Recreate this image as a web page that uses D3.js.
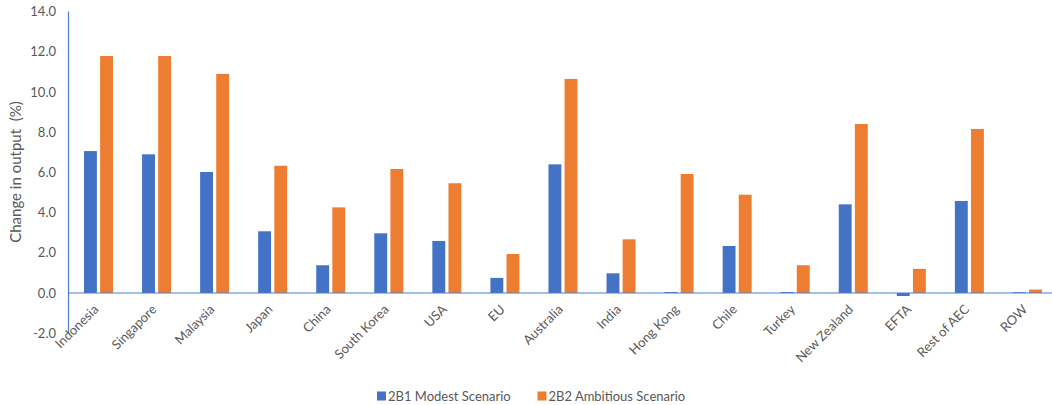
<!DOCTYPE html>
<html>
<head>
<meta charset="utf-8">
<script src="https://cdn.jsdelivr.net/npm/d3@7"></script>
<style>
  html, body { margin: 0; padding: 0; background: #fff; }
  svg { display: block; font-family: Lato, "Open Sans", sans-serif; }
</style>
</head>
<body>
<svg id="chart" width="1052" height="405"></svg>
<script>
// Regions on the category axis
const categories = ["Indonesia", "Singapore", "Malaysia", "Japan", "China", "South Korea", "USA", "EU",
  "Australia", "India", "Hong Kong", "Chile", "Turkey", "New Zealand", "EFTA", "Rest of AEC", "ROW"];

// Series names
const seriesNames = ["2B1 Modest Scenario", "2B2 Ambitious Scenario"];

// Change in output (%) per region
const modest    = [7.06, 6.90, 6.02, 3.07, 1.38, 2.97, 2.59, 0.75, 6.40, 0.98, 0.05, 2.34, 0.05, 4.41, -0.15, 4.58, 0.04];
const ambitious = [11.79, 11.79, 10.90, 6.33, 4.26, 6.17, 5.46, 1.94, 10.65, 2.67, 5.92, 4.89, 1.38, 8.41, 1.20, 8.16, 0.17];

// Value axis ticks
const yTicks = [-2, 0, 2, 4, 6, 8, 10, 12, 14];

const colors = ["#4472C4", "#ED7D31"];
const textColor = "#595959";
const axisColor = "#4F7FD0";

const svg = d3.select("#chart");

const x0 = d3.scaleBand().domain(categories).range([69.5, 1056.5]).padding(0);
const x1 = d3.scaleBand().domain(seriesNames).range([14.5, 43.5]).paddingInner(0.2);
const y = d3.scaleLinear().domain([-2, 14]).range([333.2, 11.6]);

// Value axis labels
svg.append("g")
  .selectAll("text")
  .data(yTicks)
  .join("text")
  .attr("x", 56)
  .attr("y", d => y(d))
  .attr("dy", "0.35em")
  .attr("text-anchor", "end")
  .attr("font-size", 13)
  .attr("fill", textColor)
  .text(d => d.toFixed(1));

// Axis title
svg.append("text")
  .attr("transform", "translate(21,172) rotate(-90)")
  .attr("text-anchor", "middle")
  .attr("font-size", 15)
  .attr("fill", textColor)
  .style("white-space", "pre")
  .text("Change in output  (%)");

// Bars
const rows = categories.map((c, i) => ({ c, vals: [modest[i], ambitious[i]] }));
const groups = svg.append("g")
  .selectAll("g")
  .data(rows)
  .join("g")
  .attr("transform", d => `translate(${x0(d.c)},0)`);

groups.selectAll("rect")
  .data(d => d.vals.map((v, k) => ({ s: seriesNames[k], v, k })))
  .join("rect")
  .attr("x", d => x1(d.s))
  .attr("width", x1.bandwidth())
  .attr("y", d => y(Math.max(0, d.v)))
  .attr("height", d => Math.abs(y(d.v) - y(0)))
  .attr("fill", d => colors[d.k]);

// Zero line and value axis line
svg.append("line")
  .attr("x1", 68.5).attr("x2", 1052)
  .attr("y1", y(0)).attr("y2", y(0))
  .attr("stroke", axisColor).attr("stroke-width", 1.2);

svg.append("line")
  .attr("x1", 68.5).attr("x2", 68.5)
  .attr("y1", y(14)).attr("y2", y(-2))
  .attr("stroke", axisColor).attr("stroke-width", 1.2);

// Category labels, rotated
svg.append("g")
  .selectAll("text")
  .data(categories)
  .join("text")
  .attr("transform", d => `translate(${x0(d) + x0.bandwidth() / 2 - 2.5},${y(0) + 14}) rotate(-45)`)
  .attr("text-anchor", "end")
  .attr("dy", "0.35em")
  .attr("font-size", 13)
  .attr("fill", textColor)
  .text(d => d);

// Legend
const legendX = [377, 537.5];
const legend = svg.append("g")
  .selectAll("g")
  .data(seriesNames)
  .join("g")
  .attr("transform", (d, i) => `translate(${legendX[i]},396)`);
legend.append("rect")
  .attr("x", 0).attr("y", -4.5)
  .attr("width", 9).attr("height", 9)
  .attr("fill", (d, i) => colors[i]);
legend.append("text")
  .attr("x", 11)
  .attr("dy", "0.35em")
  .attr("font-size", 13)
  .attr("fill", textColor)
  .text(d => d);
</script>
</body>
</html>
